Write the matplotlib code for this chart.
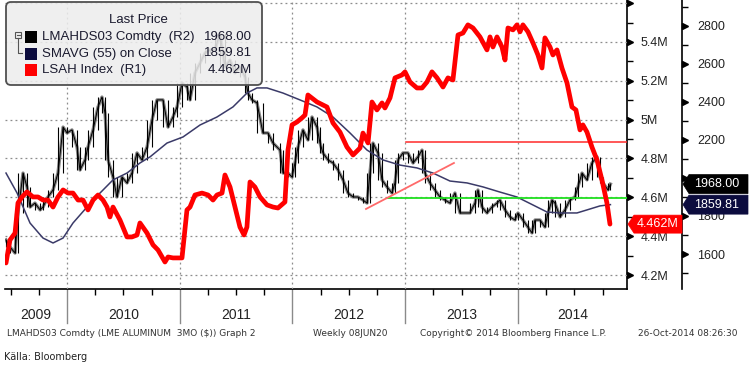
import matplotlib
matplotlib.use("Agg")
import matplotlib.pyplot as plt
import matplotlib.patches as mpatches
from matplotlib.transforms import IdentityTransform, blended_transform_factory as blend

plt.rcParams["font.family"] = ["Liberation Sans", "DejaVu Sans"]

# LSAH Index (R1), weekly, in millions
red_t = [2009.459, 2009.494, 2009.539, 2009.565, 2009.601, 2009.645, 2009.698, 2009.743, 2009.787, 2009.831,
         2009.876, 2009.920, 2009.965, 2010.009, 2010.053, 2010.098, 2010.142, 2010.186, 2010.231, 2010.275,
         2010.319, 2010.355, 2010.381, 2010.408, 2010.470, 2010.532, 2010.576, 2010.621, 2010.647, 2010.710,
         2010.763, 2010.807, 2010.869, 2010.896, 2010.940, 2011.020, 2011.064, 2011.091, 2011.135, 2011.197,
         2011.251, 2011.295, 2011.330, 2011.375, 2011.401, 2011.446, 2011.490, 2011.534, 2011.570, 2011.596,
         2011.623, 2011.667, 2011.712, 2011.774, 2011.827, 2011.871, 2011.933, 2011.960, 2011.996, 2012.040,
         2012.084, 2012.111, 2012.137, 2012.217, 2012.306, 2012.359, 2012.421, 2012.483, 2012.537, 2012.599,
         2012.625, 2012.670, 2012.705, 2012.749, 2012.794, 2012.820, 2012.865, 2012.909, 2012.971, 2012.998,
         2013.042, 2013.104, 2013.149, 2013.193, 2013.237, 2013.282, 2013.335, 2013.379, 2013.423, 2013.468,
         2013.512, 2013.556, 2013.601, 2013.663, 2013.725, 2013.752, 2013.778, 2013.814, 2013.858, 2013.885,
         2013.911, 2013.956, 2013.991, 2014.018, 2014.044, 2014.089, 2014.133, 2014.177, 2014.213, 2014.239,
         2014.284, 2014.310, 2014.346, 2014.390, 2014.435, 2014.479, 2014.514, 2014.550, 2014.576, 2014.612,
         2014.656, 2014.701, 2014.745, 2014.789, 2014.816]
red_v = [4.262, 4.380, 4.416, 4.571, 4.602, 4.628, 4.602, 4.602, 4.586, 4.586,
         4.550, 4.602, 4.638, 4.622, 4.622, 4.586, 4.586, 4.535, 4.586, 4.612,
         4.586, 4.550, 4.499, 4.550, 4.483, 4.396, 4.396, 4.406, 4.468, 4.416,
         4.355, 4.329, 4.267, 4.293, 4.288, 4.288, 4.535, 4.550, 4.612, 4.622,
         4.612, 4.586, 4.612, 4.622, 4.715, 4.653, 4.550, 4.447, 4.406, 4.447,
         4.679, 4.653, 4.602, 4.561, 4.550, 4.545, 4.576, 4.844, 4.973, 4.988,
         5.009, 5.024, 5.127, 5.091, 5.065, 4.983, 4.936, 4.859, 4.818, 4.854,
         4.931, 4.880, 5.091, 5.050, 5.086, 5.060, 5.112, 5.215, 5.230, 5.246,
         5.194, 5.163, 5.163, 5.194, 5.246, 5.215, 5.168, 5.215, 5.204, 5.436,
         5.446, 5.488, 5.472, 5.426, 5.359, 5.426, 5.374, 5.426, 5.374, 5.307,
         5.472, 5.462, 5.488, 5.452, 5.488, 5.452, 5.395, 5.333, 5.266, 5.421,
         5.374, 5.333, 5.359, 5.266, 5.189, 5.065, 5.050, 4.947, 4.973, 4.936,
         4.859, 4.792, 4.689, 4.571, 4.462]

# LMAHDS03 Comdty close (R2), USD/t
blk_t = [2009.459, 2009.494, 2009.539, 2009.565, 2009.610, 2009.645, 2009.672, 2009.716, 2009.761, 2009.787,
         2009.831, 2009.876, 2009.920, 2009.965, 2010.000, 2010.044, 2010.089, 2010.115, 2010.160, 2010.186,
         2010.231, 2010.275, 2010.310, 2010.337, 2010.364, 2010.408, 2010.443, 2010.488, 2010.532, 2010.576,
         2010.621, 2010.665, 2010.710, 2010.754, 2010.798, 2010.851, 2010.896, 2010.940, 2010.976, 2011.020,
         2011.064, 2011.091, 2011.135, 2011.180, 2011.224, 2011.268, 2011.313, 2011.357, 2011.401, 2011.446,
         2011.490, 2011.534, 2011.579, 2011.605, 2011.641, 2011.685, 2011.738, 2011.783, 2011.827, 2011.889,
         2011.916, 2011.960, 2011.996, 2012.022, 2012.049, 2012.093, 2012.137, 2012.173, 2012.217, 2012.244,
         2012.270, 2012.315, 2012.359, 2012.404, 2012.448, 2012.492, 2012.537, 2012.581, 2012.625, 2012.661,
         2012.687, 2012.714, 2012.758, 2012.794, 2012.838, 2012.882, 2012.909, 2012.936, 2012.980, 2013.024,
         2013.069, 2013.113, 2013.149, 2013.175, 2013.219, 2013.264, 2013.308, 2013.353, 2013.397, 2013.441,
         2013.486, 2013.530, 2013.574, 2013.619, 2013.645, 2013.681, 2013.725, 2013.769, 2013.814, 2013.840,
         2013.885, 2013.929, 2013.973, 2014.000, 2014.044, 2014.089, 2014.124, 2014.151, 2014.195, 2014.239,
         2014.266, 2014.302, 2014.328, 2014.373, 2014.417, 2014.461, 2014.505, 2014.532, 2014.568, 2014.612,
         2014.656, 2014.701, 2014.727, 2014.754, 2014.798, 2014.820]
blk_v = [1674, 1637, 1605, 1816, 2026, 1953, 1847, 1868, 1832, 1847,
         1900, 1937, 2026, 2268, 2237, 2253, 2163, 2042, 2095, 2163,
         2253, 2374, 2426, 2342, 2095, 2005, 1900, 2005, 1974, 2026,
         2132, 2095, 2163, 2305, 2411, 2411, 2268, 2321, 2374, 2500,
         2479, 2411, 2553, 2605, 2658, 2674, 2674, 2763, 2584, 2621,
         2553, 2584, 2532, 2447, 2411, 2395, 2237, 2237, 2184, 2147,
         2026, 2026, 2005, 2079, 2163, 2253, 2200, 2321, 2268, 2184,
         2132, 2095, 2079, 2042, 1990, 1921, 1900, 1900, 1884, 1868,
         2026, 2184, 2132, 1990, 1953, 1921, 1974, 2095, 2132, 2132,
         2079, 2111, 2147, 2026, 1974, 1937, 1900, 1884, 1868, 1921,
         1816, 1816, 1816, 1868, 1937, 1847, 1816, 1847, 1868, 1884,
         1832, 1795, 1779, 1816, 1779, 1742, 1711, 1779, 1779, 1742,
         1816, 1884, 1868, 1795, 1832, 1884, 1900, 1953, 2026, 1990,
         2079, 2111, 2005, 1974, 1937, 1968]

# SMAVG (55) on Close (R2)
ma_t = [2009.459, 2009.557, 2009.672, 2009.787, 2009.876, 2009.965, 2010.053, 2010.177, 2010.293, 2010.408,
        2010.532, 2010.647, 2010.736, 2010.887, 2011.029, 2011.180, 2011.330, 2011.472, 2011.596, 2011.685,
        2011.774, 2011.916, 2012.066, 2012.217, 2012.359, 2012.510, 2012.661, 2012.803, 2012.953, 2013.104,
        2013.246, 2013.397, 2013.548, 2013.690, 2013.840, 2013.991, 2014.133, 2014.257, 2014.373, 2014.523,
        2014.612, 2014.727, 2014.820]
ma_v = [2026, 1921, 1763, 1684, 1658, 1684, 1763, 1847, 1921, 1990,
        2026, 2079, 2111, 2184, 2216, 2279, 2321, 2374, 2447, 2474,
        2474, 2447, 2411, 2374, 2321, 2237, 2147, 2095, 2068, 2053,
        2026, 1984, 1974, 1953, 1926, 1900, 1858, 1821, 1816, 1816,
        1832, 1853, 1859.81]

# drawn-in levels (R2)
resist_t, resist_v = 2013.007, 2190
support_t, support_v = 2012.847, 1895
trend_t = [2012.652, 2013.432]
trend_v = [1837, 2079]

years = [2009, 2010, 2011, 2012, 2013, 2014]
r1_major = [4.2, 4.4, 4.6, 4.8, 5.0, 5.2, 5.4, 5.6]
r1_labels = ["4.2M", "4.4M", "4.6M", "4.8M", "5M", "5.2M", "5.4M", ""]
r2_major = [1600, 1800, 2000, 2200, 2400, 2600, 2800]
r2_labels = ["1600", "1800", "", "2200", "2400", "2600", "2800"]   # 2000 sits under the last-price tag
last_blk, last_ma, last_red = "1968.00", "1859.81", "4.462M"

X0, X1 = 2009.450, 2014.967
R1_LIM = (4.128, 5.616)
R2_LIM = (1415.8, 2936.8)

W, H = 749, 367
fig = plt.figure(figsize=(W / 100, H / 100), dpi=100)
fig.patch.set_facecolor("white")
L, R, B = 5, 627, 289          # plot box in px (top edge at 0)
ax1 = fig.add_axes([L / W, (H - B) / H, (R - L) / W, B / H])
ax2 = ax1.twinx()
PX = IdentityTransform()
LBL = "#222222"

# ---- R1 axis (at the plot's right edge)
ax1.set_xlim(X0, X1); ax1.set_ylim(*R1_LIM)
for s in ("left", "top"):
    ax1.spines[s].set_visible(False)
ax1.spines["right"].set_linewidth(1.2); ax1.spines["bottom"].set_linewidth(1.2)
ax1.yaxis.tick_right()
ax1.set_yticks(r1_major, r1_labels)
ax1.set_yticks([v + 0.1 for v in r1_major[:-1]], minor=True)
ax1.tick_params(axis="y", which="major", length=0, pad=10, labelsize=9, labelcolor=LBL)
ax1.tick_params(axis="y", which="minor", length=4, width=1, direction="out", color="k")
ax1.plot([1.0048] * len(r1_major), r1_major, ls="none", marker=">", ms=5, color="k",
         transform=blend(ax1.transAxes, ax1.transData), clip_on=False)

# x axis: quarter ticks, year separators, centred year labels
qt = [y + q for y in years for q in (0.25, 0.5, 0.75) if X0 < y + q < X1]
ax1.set_xticks(qt, [""] * len(qt))
ax1.tick_params(axis="x", length=4, width=1, direction="out", color="k")
xb = blend(ax1.transData, ax1.transAxes)
for y in years[1:]:
    ax1.plot([y, y], [0, -34 / B], color="#8a8a8a", lw=1, transform=xb, clip_on=False)
for y in years:
    a, b = max(y, X0), min(y + 1, X1)
    ax1.text((a + b) / 2, -26 / B, str(y), transform=xb, ha="center", va="center",
             fontsize=10, color=LBL)

# ---- R2 axis (offset to the right)
ax2.set_ylim(*R2_LIM)
for s in ("left", "top", "bottom"):
    ax2.spines[s].set_visible(False)
off = (682 - L) / (R - L)
ax2.spines["right"].set_position(("axes", off)); ax2.spines["right"].set_linewidth(1.2)
ax2.set_yticks(r2_major, r2_labels)
ax2.set_yticks([v + 100 for v in [1400] + r2_major], minor=True)
ax2.tick_params(axis="y", which="major", length=0, pad=11, labelsize=9, labelcolor=LBL)
ax2.tick_params(axis="y", which="minor", length=4, width=1, direction="out", color="k")
ax2.plot([off + 0.0048] * len(r2_major), r2_major, ls="none", marker=">", ms=5, color="k",
         transform=blend(ax2.transAxes, ax2.transData), clip_on=False)

# ---- grid
dot = dict(color="#8c8c8c", lw=0.9, ls=(0, (1.5, 2.5)), zorder=1)
for v in r1_major:
    ax2.plot([X0, X1], [v, v], transform=ax1.transData, **dot)
for y in years[1:]:
    ax2.plot([y, y], [0, 1], transform=xb, **dot)

# ---- series
# price: grey body, black trace, and a black bar spanning each week's swing
ax2.plot(blk_t, blk_v, color="#858585", lw=2.4, zorder=2)
ax2.plot(blk_t, blk_v, color="black", lw=0.7, zorder=3)
lo = [min(blk_v[max(i - 1, 0):i + 2]) for i in range(len(blk_v))]
hi = [max(blk_v[max(i - 1, 0):i + 2]) for i in range(len(blk_v))]
ax2.vlines(blk_t, lo, hi, color="black", lw=0.8, zorder=3)
ax2.plot(ma_t, ma_v, color="#3a3a68", lw=1.1, zorder=4)
ax2.plot([support_t, X1], [support_v, support_v], color="#20e020", lw=1.3, zorder=5)
ax2.plot([resist_t, X1], [resist_v, resist_v], color="#ff2a2a", lw=1.1, zorder=5)
ax2.plot(trend_t, trend_v, color="#ff6a6a", lw=1.3, zorder=5)
ax2.plot(red_t, red_v, color="#ff0000", lw=3.4, transform=ax1.transData, zorder=6,
         solid_joinstyle="round", solid_capstyle="round")
ax1.set_xlim(X0, X1); ax1.set_ylim(*R1_LIM); ax2.set_ylim(*R2_LIM)

# ---- last-value tags
def tag(x_tip, x_right, yc, h, color, text, tx):
    pts = [(x_tip, yc), (x_tip + 6, yc + h / 2), (x_right, yc + h / 2),
           (x_right, yc - h / 2), (x_tip + 6, yc - h / 2)]
    fig.add_artist(mpatches.Polygon(pts, closed=True, fc=color, ec=color, lw=0.5,
                                    transform=PX, zorder=20))
    fig.text(tx, yc, text, transform=PX, color="white", fontsize=9, ha="center",
             va="center", zorder=21)

yb = ax2.transData.transform((X1, 1968))[1]
ym = ax2.transData.transform((X1, 1859.81))[1]
yr = ax1.transData.transform((X1, 4.462))[1]
tag(683, 748, yb, 19, "#000000", last_blk, 717)
tag(683, 748, min(ym, yb - 20), 19, "#0c0c3e", last_ma, 717)
tag(628, 682, yr, 18, "#ff0000", last_red, 658)

# ---- legend box
fig.add_artist(mpatches.FancyBboxPatch((6, H - 85), 256, 83, boxstyle="round,pad=0,rounding_size=5",
                                       fc=(0.93, 0.93, 0.93, 0.86), ec="#505050", lw=1.3,
                                       transform=PX, zorder=10))
fig.text(138, H - 20, "Last Price", transform=PX, fontsize=9.5, ha="center", va="center",
         color="#1a1a2e", zorder=11)
rows = [("LMAHDS03 Comdty  (R2)", last_blk, "#000000"),
        ("SMAVG (55) on Close", last_ma, "#0c0c3e"),
        ("LSAH Index  (R1)", last_red, "#ff0000")]
for i, (name, val, c) in enumerate(rows):
    yy = H - (37 + 16.5 * i)
    fig.add_artist(mpatches.Rectangle((25, yy - 6), 12, 12, fc=c, ec="none", transform=PX, zorder=11))
    fig.text(42, yy, name, transform=PX, fontsize=9.5, va="center", color="#1a1a2e", zorder=11)
    fig.text(252, yy, val, transform=PX, fontsize=9.5, va="center", ha="right", color="#1a1a2e", zorder=11)
# tree glyph
fig.add_artist(mpatches.Rectangle((15, H - 38), 6, 6, fc="none", ec="#555", lw=0.8, transform=PX, zorder=11))
fig.add_artist(plt.Line2D([16.5, 19.5], [H - 35, H - 35], color="#555", lw=0.8, transform=PX, zorder=11))
fig.add_artist(plt.Line2D([18, 18, 22], [H - 38, H - 53, H - 53], color="#555", lw=0.8, transform=PX, zorder=11))

# ---- footer
foot = dict(transform=PX, fontsize=6.5, va="center", color="#333333",
            family=["Liberation Sans Narrow", "DejaVu Sans"])
fig.text(7, H - 333, "LMAHDS03 Comdty (LME ALUMINUM  3MO ($)) Graph 2", **foot)
fig.text(313, H - 333, "Weekly 08JUN20", **foot)
fig.text(420, H - 333, "Copyright\u00a9 2014 Bloomberg Finance L.P.", **foot)
fig.text(738, H - 333, "26-Oct-2014 08:26:30", ha="right", **foot)
fig.text(4, H - 357, "Källa: Bloomberg", transform=PX, fontsize=7, va="center", color="#222222",
         family=["Liberation Sans Narrow", "DejaVu Sans"])

fig.savefig("out.png", dpi=100, facecolor="white")
